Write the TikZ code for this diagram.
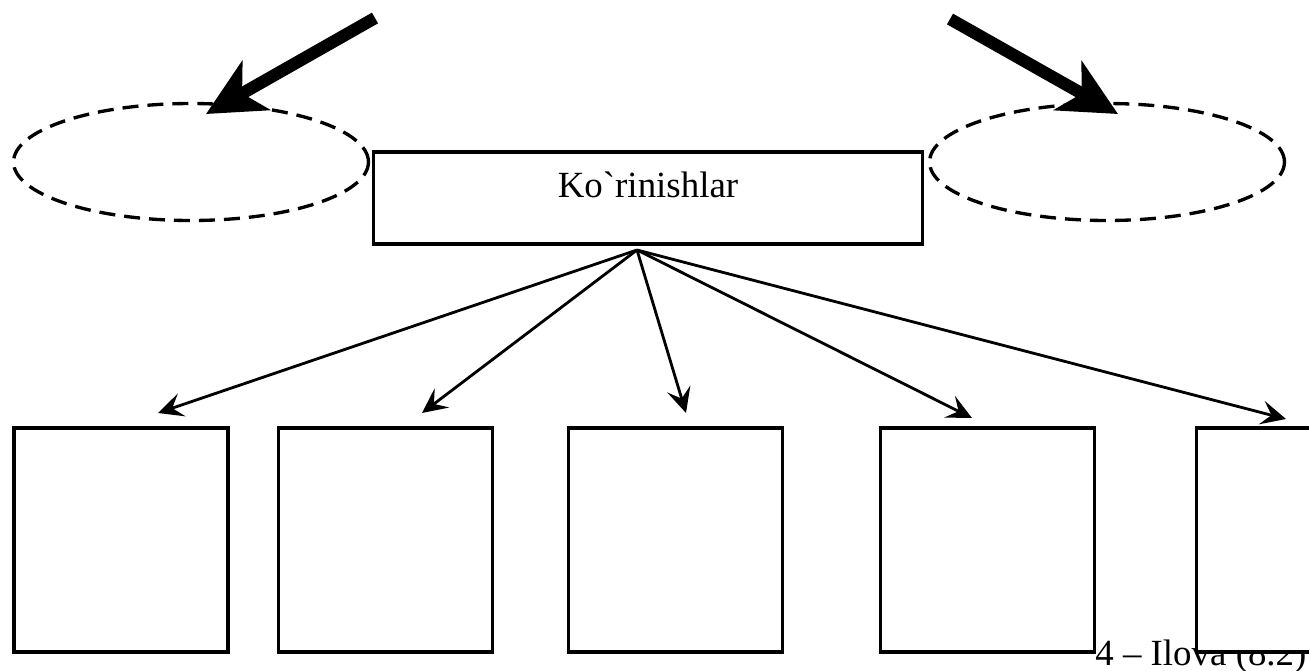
\documentclass[tikz,border=0pt]{standalone}
\usepackage{fontspec}
\setmainfont{Liberation Serif}[Ligatures=TeXOff]
\usetikzlibrary{arrows.meta,shapes.geometric}
\tikzset{
  frame/.style  = {rectangle, draw, fill=white, line width=2pt, inner sep=0pt,
                   minimum width=4.28cm, minimum height=4.48cm},
  hubbox/.style = {rectangle, draw, fill=white, line width=2pt, inner sep=0pt,
                   minimum width=10.98cm, text height=0.9cm, text depth=0.94cm,
                   font=\fontsize{21}{25}\selectfont},
  oval/.style   = {ellipse, draw, dash pattern=on 0.32cm off 0.18cm, line width=1.9pt,
                   inner sep=0pt, minimum width=7.1cm, minimum height=2.34cm},
  fl/.style     = {-{Stealth[length=0.5cm,width=0.48cm,inset=0.2cm]}, line width=1.6pt},
  bigfl/.style  = {-{Stealth[length=1.15cm,width=1.12cm,inset=0.32cm]}, line width=7pt},
  lbl/.style    = {font=\fontsize{21}{25}\selectfont, inner sep=0pt},
}
\begin{document}
\begin{tikzpicture}[x=0.02cm,y=-0.02cm]
\useasboundingbox (0,0) rectangle (1309,670);
\clip (0,0) rectangle (1309,670);
% views
\node[oval] (lview) at (191,162) {};
\node[oval] (rview) at (1107,162) {};
\node[hubbox] (kor) at (648,198) {Ko`rinishlar};
% page note, partly under the last box
\node[lbl, anchor=base west] (note) at (1095,665) {4 – Ilova (8.2)};
% lower boxes
\node[frame] (v1) at (121,540) {};
\node[frame] (v2) at (385.5,540) {};
\node[frame] (v3) at (675.5,540) {};
\node[frame] (v4) at (987.5,540) {};
\node[frame] (v5) at (1303.5,540) {};
% arrow ends
\coordinate (lfrom) at (375,18);
\coordinate (lto) at (206,114);
\coordinate (rfrom) at (950,19);
\coordinate (rto) at (1118,114);
\coordinate (hub) at (637,250);
\coordinate (t1) at (158,413);
\coordinate (t2) at (422,413);
\coordinate (t3) at (686,413);
\coordinate (t4) at (972,418);
\coordinate (t5) at (1286,419);
% edges
\draw[bigfl] (lfrom) -- (lto);
\draw[bigfl] (rfrom) -- (rto);
\foreach \t in {t1,t2,t3,t4,t5}
  \draw[fl] (hub) -- (\t);
\end{tikzpicture}
\end{document}
